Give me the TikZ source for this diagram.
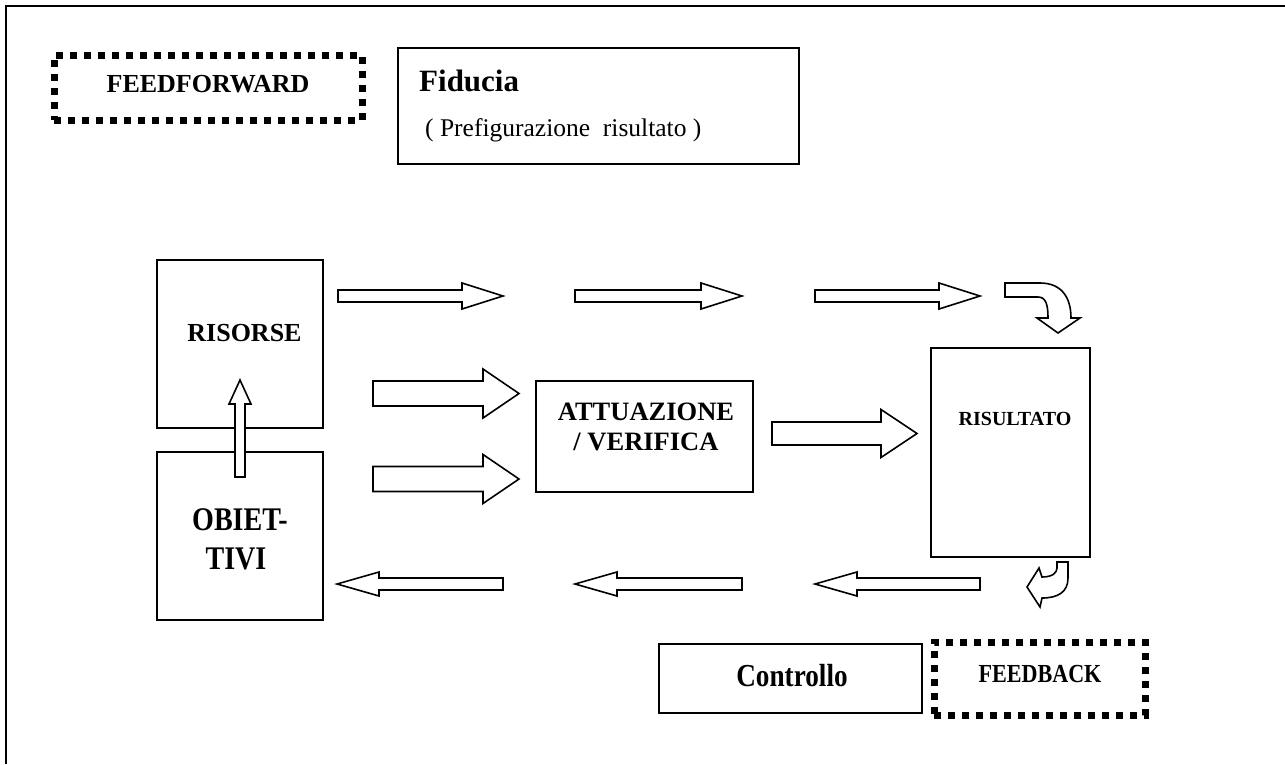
\documentclass[tikz,border=0pt]{standalone}
\usepackage{graphicx}
\usepackage{fontspec}
\setmainfont{Liberation Serif}
\newcommand\blockarr[6]{\draw[barrow] (#1,{#3-#4}) -- ({#2-(#6)},{#3-#4}) -- ({#2-(#6)},{#3-#5}) -- (#2,#3) -- ({#2-(#6)},{#3+#5}) -- ({#2-(#6)},{#3+#4}) -- (#1,{#3+#4}) -- cycle;}
\newcommand\fsz[1]{\fontsize{#1}{#1}\selectfont}
\newcommand\cnd[1]{\scalebox{0.85}[1]{#1}}
\begin{document}
\begin{tikzpicture}[x=1pt,y=-1pt,
  box/.style={draw, line width=1.5pt, inner sep=0pt},
  dotbox/.style={draw, line width=7pt, dash pattern=on 7pt off 7pt, inner sep=0pt},
  barrow/.style={draw, line width=1.6pt, fill=white, line join=miter},
  txt/.style={inner sep=0pt, anchor=base}]
\useasboundingbox (0,0) rectangle (1285,764);
\draw[line width=2pt] (6,764) -- (6,6) -- (1285,6);
% boxes
\node[dotbox, minimum width=308pt, minimum height=65pt] (ff) at (208,87.5) {};
\node[box, minimum width=401pt, minimum height=116pt] (fid) at (598.5,106) {};
\node[box, minimum width=166pt, minimum height=168pt] (ris) at (240,344) {};
\node[box, minimum width=166pt, minimum height=168pt] (obi) at (240,536) {};
\node[box, minimum width=217pt, minimum height=111pt] (att) at (644.5,436.5) {};
\node[box, minimum width=159pt, minimum height=209pt] (rsl) at (1010.5,452.5) {};
\node[box, minimum width=263pt, minimum height=69pt] (ctl) at (790.5,678.5) {};
\node[dotbox, minimum width=211pt, minimum height=73pt] (fb) at (1039.5,678.5) {};
% texts
\node[txt] (tff) at (208,92) {\fsz{26}\bfseries FEEDFORWARD};
\node[txt, anchor=base west] (tfid) at (419,91) {\fsz{31}\bfseries Fiducia};
\node[txt, anchor=base west] (tpre) at (425,136) {\fsz{25.5}( Prefigurazione\ \ risultato )};
\node[txt] (tris) at (244.5,341) {\fsz{26}\bfseries RISORSE};
\node[txt] (tobi1) at (240,530) {\cnd{\fsz{33}\bfseries OBIET-}};
\node[txt] (tobi2) at (236,569) {\cnd{\fsz{33}\bfseries TIVI}};
\node[txt] (tatt1) at (646,420) {\fsz{26.5}\bfseries ATTUAZIONE};
\node[txt] (tatt2) at (646,450) {\fsz{26.5}\bfseries / VERIFICA};
\node[txt] (trsl) at (1015,425) {\fsz{20}\bfseries RISULTATO};
\node[txt] (tctl) at (792,686) {\cnd{\fsz{32}\bfseries Controllo}};
\node[txt] (tfb) at (1040,682) {\cnd{\fsz{26}\bfseries FEEDBACK}};
% top thin arrows
\blockarr{338}{503}{296}{6}{13}{41}
\blockarr{575}{742}{296}{6}{13}{41}
\blockarr{815}{980}{296}{6}{13}{41}
% bottom thin arrows (leftwards)
\blockarr{503}{337}{584}{6}{12}{-42}
\blockarr{742}{575}{584}{6}{12}{-42}
\blockarr{980}{815}{584}{6}{12}{-42}
% fat arrows
\blockarr{373}{519}{393.5}{12.5}{24.5}{36}
\blockarr{373}{519}{479}{12.5}{24.5}{36}
\blockarr{772}{917}{433.5}{11.5}{24}{36}
% up arrow
\draw[barrow] (235,477) -- (235,404) -- (229,404) -- (240,380) -- (251,404) -- (245,404) -- (245,477) -- cycle;
% curved arrow top right
\draw[barrow] (1005,283) -- (1040,283) .. controls (1062,283) and (1071,298) .. (1071,318)
  -- (1080,318) -- (1058,333) -- (1037,318) -- (1048,318)
  .. controls (1048,305) and (1046,297) .. (1038,297) -- (1005,297) -- cycle;
% curved arrow bottom right
\draw[barrow] (1057,562) -- (1068,562) -- (1068,578) .. controls (1068,592) and (1058,598) .. (1042,598)
  -- (1040,607) -- (1027,587) -- (1039,568) -- (1042,577)
  .. controls (1052,577) and (1057,573) .. (1057,568) -- cycle;
\end{tikzpicture}
\end{document}
